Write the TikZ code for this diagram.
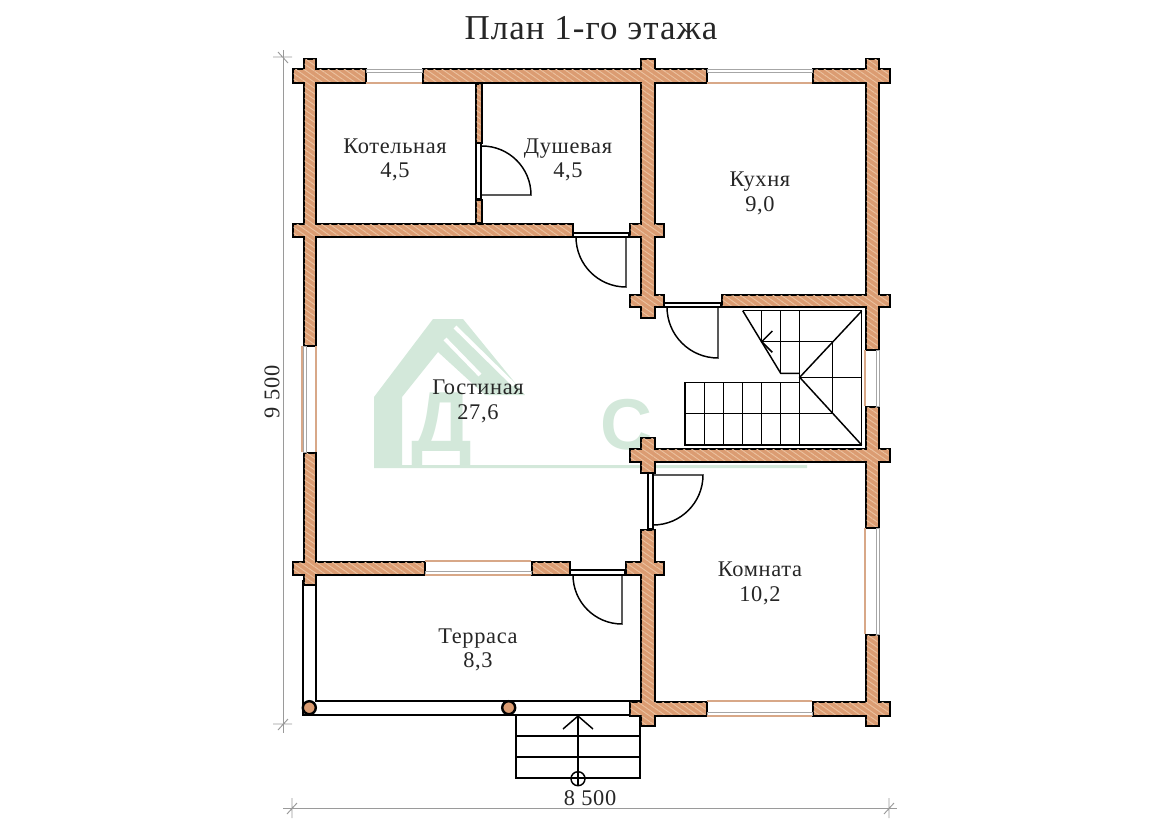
\documentclass[tikz,border=0pt]{standalone}
\usepackage{fontspec}
\setmainfont[LetterSpace=3]{Liberation Serif}
\setsansfont{Liberation Sans}
\definecolor{planwood}{HTML}{DB9C72}
\definecolor{planhatch}{HTML}{EBC19F}
\definecolor{planmark}{HTML}{D3E8DA}
\definecolor{plantan}{HTML}{D8A888}
\definecolor{plandim}{HTML}{9A9A9A}
\definecolor{plantext}{HTML}{262626}
\usetikzlibrary{patterns.meta}
\begin{document}
\begin{tikzpicture}[
  x=0.75pt, y=-0.75pt,
  room/.style={font=\fontsize{16.8}{18.5}\selectfont, text=plantext, align=center},
  title/.style={font=\fontsize{26.2}{28}\selectfont, text=plantext},
  wallout/.style={draw=black, line width=3pt, line join=miter},
  wallin/.style={preaction={fill=planwood},
    pattern={Lines[angle=-35,distance=3.5pt,line width=.7pt]}, pattern color=planhatch},
  fine/.style={draw=black, line width=1.1pt},
  terr/.style={draw=black, line width=1.8pt},
  dimline/.style={draw=plandim, line width=.7pt},
  tan/.style={draw=plantan, line width=.8pt},
  glass/.style={draw=gray!70, line width=.5pt}
]
  \useasboundingbox (0,0) rectangle (1175,825);

  % Watermark
  \fill[planmark] (374,397) -- (433,319) -- (463,319) -- (525,395) -- (485,395)
    -- (438,352) -- (402,397) -- (402,465) -- (807,465) -- (807,468) -- (374,468) -- cycle;
  \draw[white, line width=3pt] (445,339) -- (480,375) (455,327) -- (514,385);
  \node[font=\sffamily\bfseries\fontsize{64}{64}\selectfont, text=planmark] (markd) at (442,431) {Д};
  \node[font=\sffamily\bfseries\fontsize{54}{54}\selectfont, text=planmark] (marks) at (626,425) {С};

  % Terrace
  \draw[terr] (303,580) -- (303,715) -- (630,715);
  \draw[terr] (316,575) -- (316,701) -- (640,701);
  \draw[terr, fill=planwood] (309.3,707.7) circle (6.5);
  \draw[terr, fill=planwood] (508.7,707.7) circle (6.5);

  % Walls
  \foreach \xa/\ya/\xb/\yb in {
    292/68/366/83, 422/68/707/83, 812/68/890/83,
    303/58/316/346, 303/452/316/585, 640/58/655/318,
    865/58/879/350, 865/406/879/528, 865/634/879/726,
    292/223/573/237, 629/223/664/237, 629/294/664/307,
    721/294/890/307, 629/448/890/462, 640/437/655/473,
    640/529/655/726, 292/561/425/575, 531/561/570/575,
    625/561/664/575, 629/701/707/716, 812/701/890/716,
    475/83/482/143, 475/199/482/223}
    \draw[wallout] (\xa+1.5,\ya+1.5) rectangle (\xb-1.5,\yb-1.5);
  \foreach \xa/\ya/\xb/\yb in {
    292/68/366/83, 422/68/707/83, 812/68/890/83,
    303/58/316/346, 303/452/316/585, 640/58/655/318,
    865/58/879/350, 865/406/879/528, 865/634/879/726,
    292/223/573/237, 629/223/664/237, 629/294/664/307,
    721/294/890/307, 629/448/890/462, 640/437/655/473,
    640/529/655/726, 292/561/425/575, 531/561/570/575,
    625/561/664/575, 629/701/707/716, 812/701/890/716,
    475/83/482/143, 475/199/482/223}
    \path[wallin] (\xa+1.5,\ya+1.5) rectangle (\xb-1.5,\yb-1.5);

  % Windows
  \foreach \xa/\xb/\ytan/\yg in {366/422/83/69, 707/812/83/69, 707/812/701/712, 425/531/561/571}{
    \draw[tan] (\xa,\ytan) -- (\xb,\ytan);
    \draw[glass] (\xa,\yg) rectangle (\xb,\yg+3);
  }
  \draw[tan] (425,575) -- (531,575);
  \draw[tan] (707,716) -- (812,716);
  \foreach \ya/\yb/\xtan/\xg in {346/452/316/303, 350/406/865/876, 528/634/865/876}{
    \draw[tan] (\xtan,\ya) -- (\xtan,\yb);
    \draw[glass] (\xg,\ya) rectangle (\xg+3,\yb);
  }
  \draw[tan] (302,346) -- (302,452);

  % Doors
  \draw[fine] (476,143) rectangle (481,199);
  \draw[fine] (482,146) arc[start angle=-90, end angle=0, radius=49] -- (482,195);
  \draw[fine] (573,233) rectangle (629,237);
  \draw[fine] (576,237) arc[start angle=180, end angle=90, radius=50] -- (626,237);
  \draw[fine] (664,303) rectangle (721,307);
  \draw[fine] (667,307) arc[start angle=180, end angle=90, radius=51] -- (718,307);
  \draw[fine] (648,473) rectangle (653,529);
  \draw[fine] (653,525) arc[start angle=90, end angle=0, radius=50] -- (653,475);
  \draw[fine] (570,570) rectangle (625,575);
  \draw[fine] (573,575) arc[start angle=180, end angle=90, radius=49] -- (622,575);

  % Inner stairs
  \draw[fine] (742.7,310.7) -- (861.7,310.7) -- (861.7,445) -- (685,445) -- (685,382.3) -- (799.7,382.3);
  \draw[fine] (742.7,310.7) -- (780.7,373.3) -- (799.7,373.3);
  \draw[fine] (799.7,310.7) -- (799.7,445);
  \draw[fine] (861.7,311) -- (799.7,377.3) -- (861.7,445);
  \draw[fine] (761.7,310.7) -- (761.7,341.7) -- (832.3,341.7) -- (832.3,413.3) -- (685,413.3);
  \draw[fine] (780.7,310.7) -- (780.7,373.3);
  \draw[fine] (799.7,377.3) -- (861.7,377.3);
  \foreach \xa in {704.3,723.3,742.3,761.7,780.7}
    \draw[fine] (\xa,382.3) -- (\xa,445);
  \draw[fine] (772.3,331) -- (761.7,341.7) -- (772.3,352.3);

  % Porch
  \draw[fine] (516,715) -- (516,778) -- (640,778) -- (640,715);
  \draw[fine] (516,736) -- (640,736) (516,757) -- (640,757);
  \draw[fine] (578,716) -- (578,786);
  \draw[fine] (563,729) -- (578,716) -- (593,729);
  \draw[fine] (578,778.7) circle (7);

  % Dimensions
  \draw[dimline] (283,50) -- (283,733);
  \draw[dimline] (273,57) -- (292,57) (278,52) -- (288,63);
  \draw[dimline] (273,724) -- (292,724) (278,730) -- (288,719);
  \draw[dimline] (283,808) -- (897,808);
  \draw[dimline] (292,798) -- (292,818) (287,814) -- (297,803);
  \draw[dimline] (889,798) -- (889,818) (884,814) -- (894,803);

  % Labels
  \node[title] (planname) at (591,28) {План 1-го этажа};
  \node[room] (boiler) at (395,160) {Котельная\\4,5};
  \node[room] (shower) at (568,160) {Душевая\\4,5};
  \node[room] (kitchen) at (760,193.5) {Кухня\\9,0};
  \node[room] (lounge) at (478,401.5) {Гостиная\\27,6};
  \node[room] (terrace) at (478,650) {Терраса\\8,3};
  \node[room] (bedroom) at (760,583.5) {Комната\\10,2};
  \node[room, rotate=90] (dimh) at (272,392) {9 500};
  \node[room] (dimw) at (590,798) {8 500};
\end{tikzpicture}
\end{document}
